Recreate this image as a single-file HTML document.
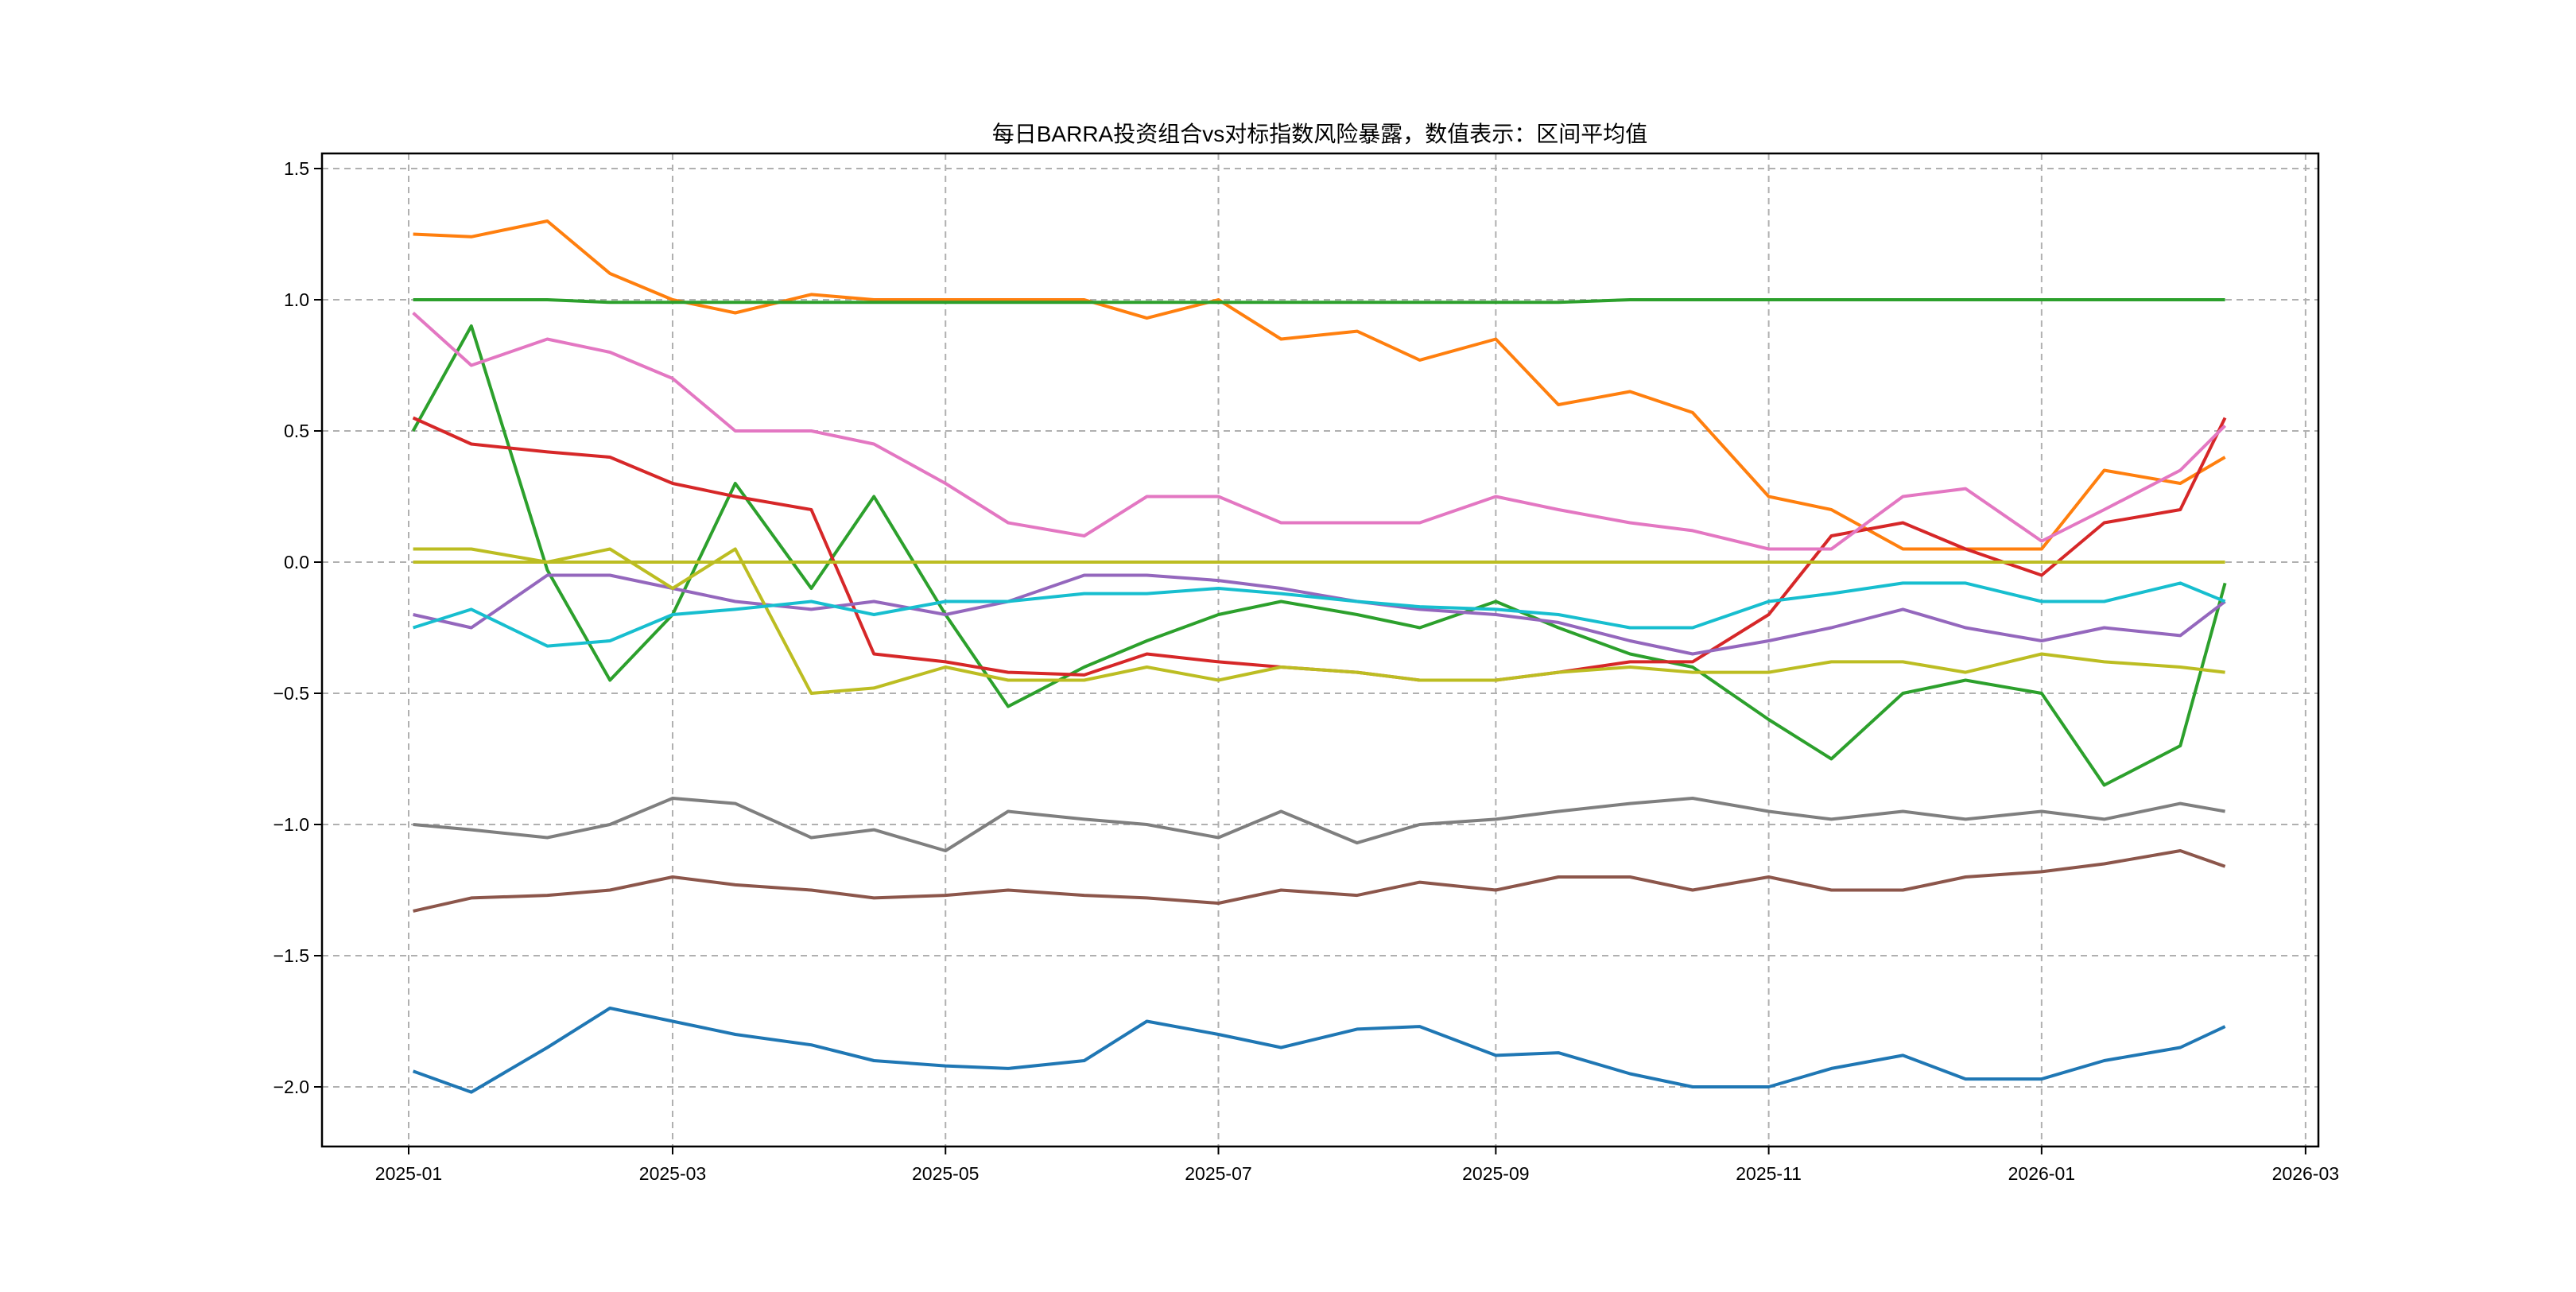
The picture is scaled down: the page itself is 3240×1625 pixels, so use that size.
<!DOCTYPE html>
<html><head><meta charset="utf-8"><style>
body{margin:0;background:#fff}
svg text{font-family:"Liberation Sans","Noto Sans CJK SC",sans-serif;fill:#000}
</style></head><body>
<svg id="chart" width="3240" height="1620" viewBox="0 0 3240 1620" xmlns="http://www.w3.org/2000/svg">
<rect width="3240" height="1620" fill="#fff"/>
<text x="1660" y="178" text-anchor="middle" font-size="28">每日BARRA投资组合vs对标指数风险暴露，数值表示：区间平均值</text>
<g id="grid"></g><g id="series"></g><g id="axes"></g>
</svg>
<script>
const dates=["2025-01-02","2025-01-15","2025-02-01","2025-02-15","2025-03-01","2025-03-15","2025-04-01","2025-04-15","2025-05-01","2025-05-15","2025-06-01","2025-06-15","2025-07-01","2025-07-15","2025-08-01","2025-08-15","2025-09-01","2025-09-15","2025-10-01","2025-10-15","2025-11-01","2025-11-15","2025-12-01","2025-12-15","2026-01-01","2026-01-15","2026-02-01","2026-02-11"];
const blueVals=[-1.94,-2.02,-1.85,-1.7,-1.75,-1.8,-1.84,-1.9,-1.92,-1.93,-1.9,-1.75,-1.8,-1.85,-1.78,-1.77,-1.88,-1.87,-1.95,-2.0,-2.0,-1.93,-1.88,-1.97,-1.97,-1.9,-1.85,-1.77];
const orangeVals=[1.25,1.24,1.3,1.1,1.0,0.95,1.02,1.0,1.0,1.0,1.0,0.93,1.0,0.85,0.88,0.77,0.85,0.6,0.65,0.57,0.25,0.2,0.05,0.05,0.05,0.35,0.3,0.4];
const greenFlatVals=[1.0,1.0,1.0,0.99,0.99,0.99,0.99,0.99,0.99,0.99,0.99,0.99,0.99,0.99,0.99,0.99,0.99,0.99,1.0,1.0,1.0,1.0,1.0,1.0,1.0,1.0,1.0,1.0];
const greenVals=[0.5,0.9,-0.03,-0.45,-0.2,0.3,-0.1,0.25,-0.2,-0.55,-0.4,-0.3,-0.2,-0.15,-0.2,-0.25,-0.15,-0.25,-0.35,-0.4,-0.6,-0.75,-0.5,-0.45,-0.5,-0.85,-0.7,-0.08];
const redVals=[0.55,0.45,0.42,0.4,0.3,0.25,0.2,-0.35,-0.38,-0.42,-0.43,-0.35,-0.38,-0.4,-0.42,-0.45,-0.45,-0.42,-0.38,-0.38,-0.2,0.1,0.15,0.05,-0.05,0.15,0.2,0.55];
const purpleVals=[-0.2,-0.25,-0.05,-0.05,-0.1,-0.15,-0.18,-0.15,-0.2,-0.15,-0.05,-0.05,-0.07,-0.1,-0.15,-0.18,-0.2,-0.23,-0.3,-0.35,-0.3,-0.25,-0.18,-0.25,-0.3,-0.25,-0.28,-0.15];
const brownVals=[-1.33,-1.28,-1.27,-1.25,-1.2,-1.23,-1.25,-1.28,-1.27,-1.25,-1.27,-1.28,-1.3,-1.25,-1.27,-1.22,-1.25,-1.2,-1.2,-1.25,-1.2,-1.25,-1.25,-1.2,-1.18,-1.15,-1.1,-1.16];
const pinkVals=[0.95,0.75,0.85,0.8,0.7,0.5,0.5,0.45,0.3,0.15,0.1,0.25,0.25,0.15,0.15,0.15,0.25,0.2,0.15,0.12,0.05,0.05,0.25,0.28,0.08,0.2,0.35,0.52];
const grayVals=[-1.0,-1.02,-1.05,-1.0,-0.9,-0.92,-1.05,-1.02,-1.1,-0.95,-0.98,-1.0,-1.05,-0.95,-1.07,-1.0,-0.98,-0.95,-0.92,-0.9,-0.95,-0.98,-0.95,-0.98,-0.95,-0.98,-0.92,-0.95];
const oliveVals=[0.05,0.05,0.0,0.05,-0.1,0.05,-0.5,-0.48,-0.4,-0.45,-0.45,-0.4,-0.45,-0.4,-0.42,-0.45,-0.45,-0.42,-0.4,-0.42,-0.42,-0.38,-0.38,-0.42,-0.35,-0.38,-0.4,-0.42];
const oliveFlatVals=[0,0,0,0,0,0,0,0,0,0,0,0,0,0,0,0,0,0,0,0,0,0,0,0,0,0,0,0];
const cyanVals=[-0.25,-0.18,-0.32,-0.3,-0.2,-0.18,-0.15,-0.2,-0.15,-0.15,-0.12,-0.12,-0.1,-0.12,-0.15,-0.17,-0.18,-0.2,-0.25,-0.25,-0.15,-0.12,-0.08,-0.08,-0.15,-0.15,-0.08,-0.15];
const yTicks=[1.5,1.0,0.5,0.0,-0.5,-1.0,-1.5,-2.0];
const yTickLabels=["1.5","1.0","0.5","0.0","−0.5","−1.0","−1.5","−2.0"];
const xTicks=["2025-01-01","2025-03-01","2025-05-01","2025-07-01","2025-09-01","2025-11-01","2026-01-01","2026-03-01"];

const L=405,R=2916,T=193,B=1442;
const t0=Date.parse("2025-01-01");
function xs(d){return 514+(Date.parse(d)-t0)/86400000*5.627;}
function ys(v){return 707-v*330;}
const NS="http://www.w3.org/2000/svg";
function mk(tag,attrs,parent){const e=document.createElementNS(NS,tag);for(const k in attrs)e.setAttribute(k,attrs[k]);parent.appendChild(e);return e;}
const grid=document.getElementById('grid'),ser=document.getElementById('series'),ax=document.getElementById('axes');
yTicks.forEach((v,i)=>{
  const g=mk('line',{x1:L,x2:R,y1:ys(v),y2:ys(v),stroke:'#b0b0b0','stroke-width':2,'stroke-dasharray':'8,6'},grid);
  
  
  const tk=mk('line',{x1:L-10,x2:L,y1:ys(v),y2:ys(v),stroke:'#000','stroke-width':2},ax);
  
  
  const t=mk('text',{x:L-16,y:ys(v)+8,'text-anchor':'end','font-size':23},ax);
  t.textContent=yTickLabels[i];
  
  
});
xTicks.forEach(d=>{
  const x=xs(d);
  const g=mk('line',{x1:x,x2:x,y1:T,y2:B,stroke:'#b0b0b0','stroke-width':2,'stroke-dasharray':'8,6'},grid);
  
  
  const tk=mk('line',{x1:x,x2:x,y1:B,y2:B+10,stroke:'#000','stroke-width':2},ax);
  
  
  const t=mk('text',{x:x,y:B+42,'text-anchor':'middle','font-size':23},ax);
  t.textContent=d.slice(0,7);
  
  
});
const frame=mk('rect',{x:L,y:T,width:R-L,height:B-T,fill:'none',stroke:'#000','stroke-width':2.5},ax);


const series=[["blue-series",blueVals,"#1f77b4"],["orange-series",orangeVals,"#ff7f0e"],["green-flat-series",greenFlatVals,"#2ca02c"],["green-series",greenVals,"#2ca02c"],["red-series",redVals,"#d62728"],["purple-series",purpleVals,"#9467bd"],["brown-series",brownVals,"#8c564b"],["pink-series",pinkVals,"#e377c2"],["gray-series",grayVals,"#7f7f7f"],["olive-series",oliveVals,"#bcbd22"],["olive-flat-series",oliveFlatVals,"#bcbd22"],["cyan-series",cyanVals,"#17becf"]];
series.forEach(s=>{
  const pts=s[1].map((v,i)=>xs(dates[i]).toFixed(1)+','+ys(v).toFixed(1)).join(' ');
  const p=mk('polyline',{points:pts,fill:'none',stroke:s[2],'stroke-width':4,'stroke-linejoin':'round'},ser);
  
  
});
</script>
</body></html>
